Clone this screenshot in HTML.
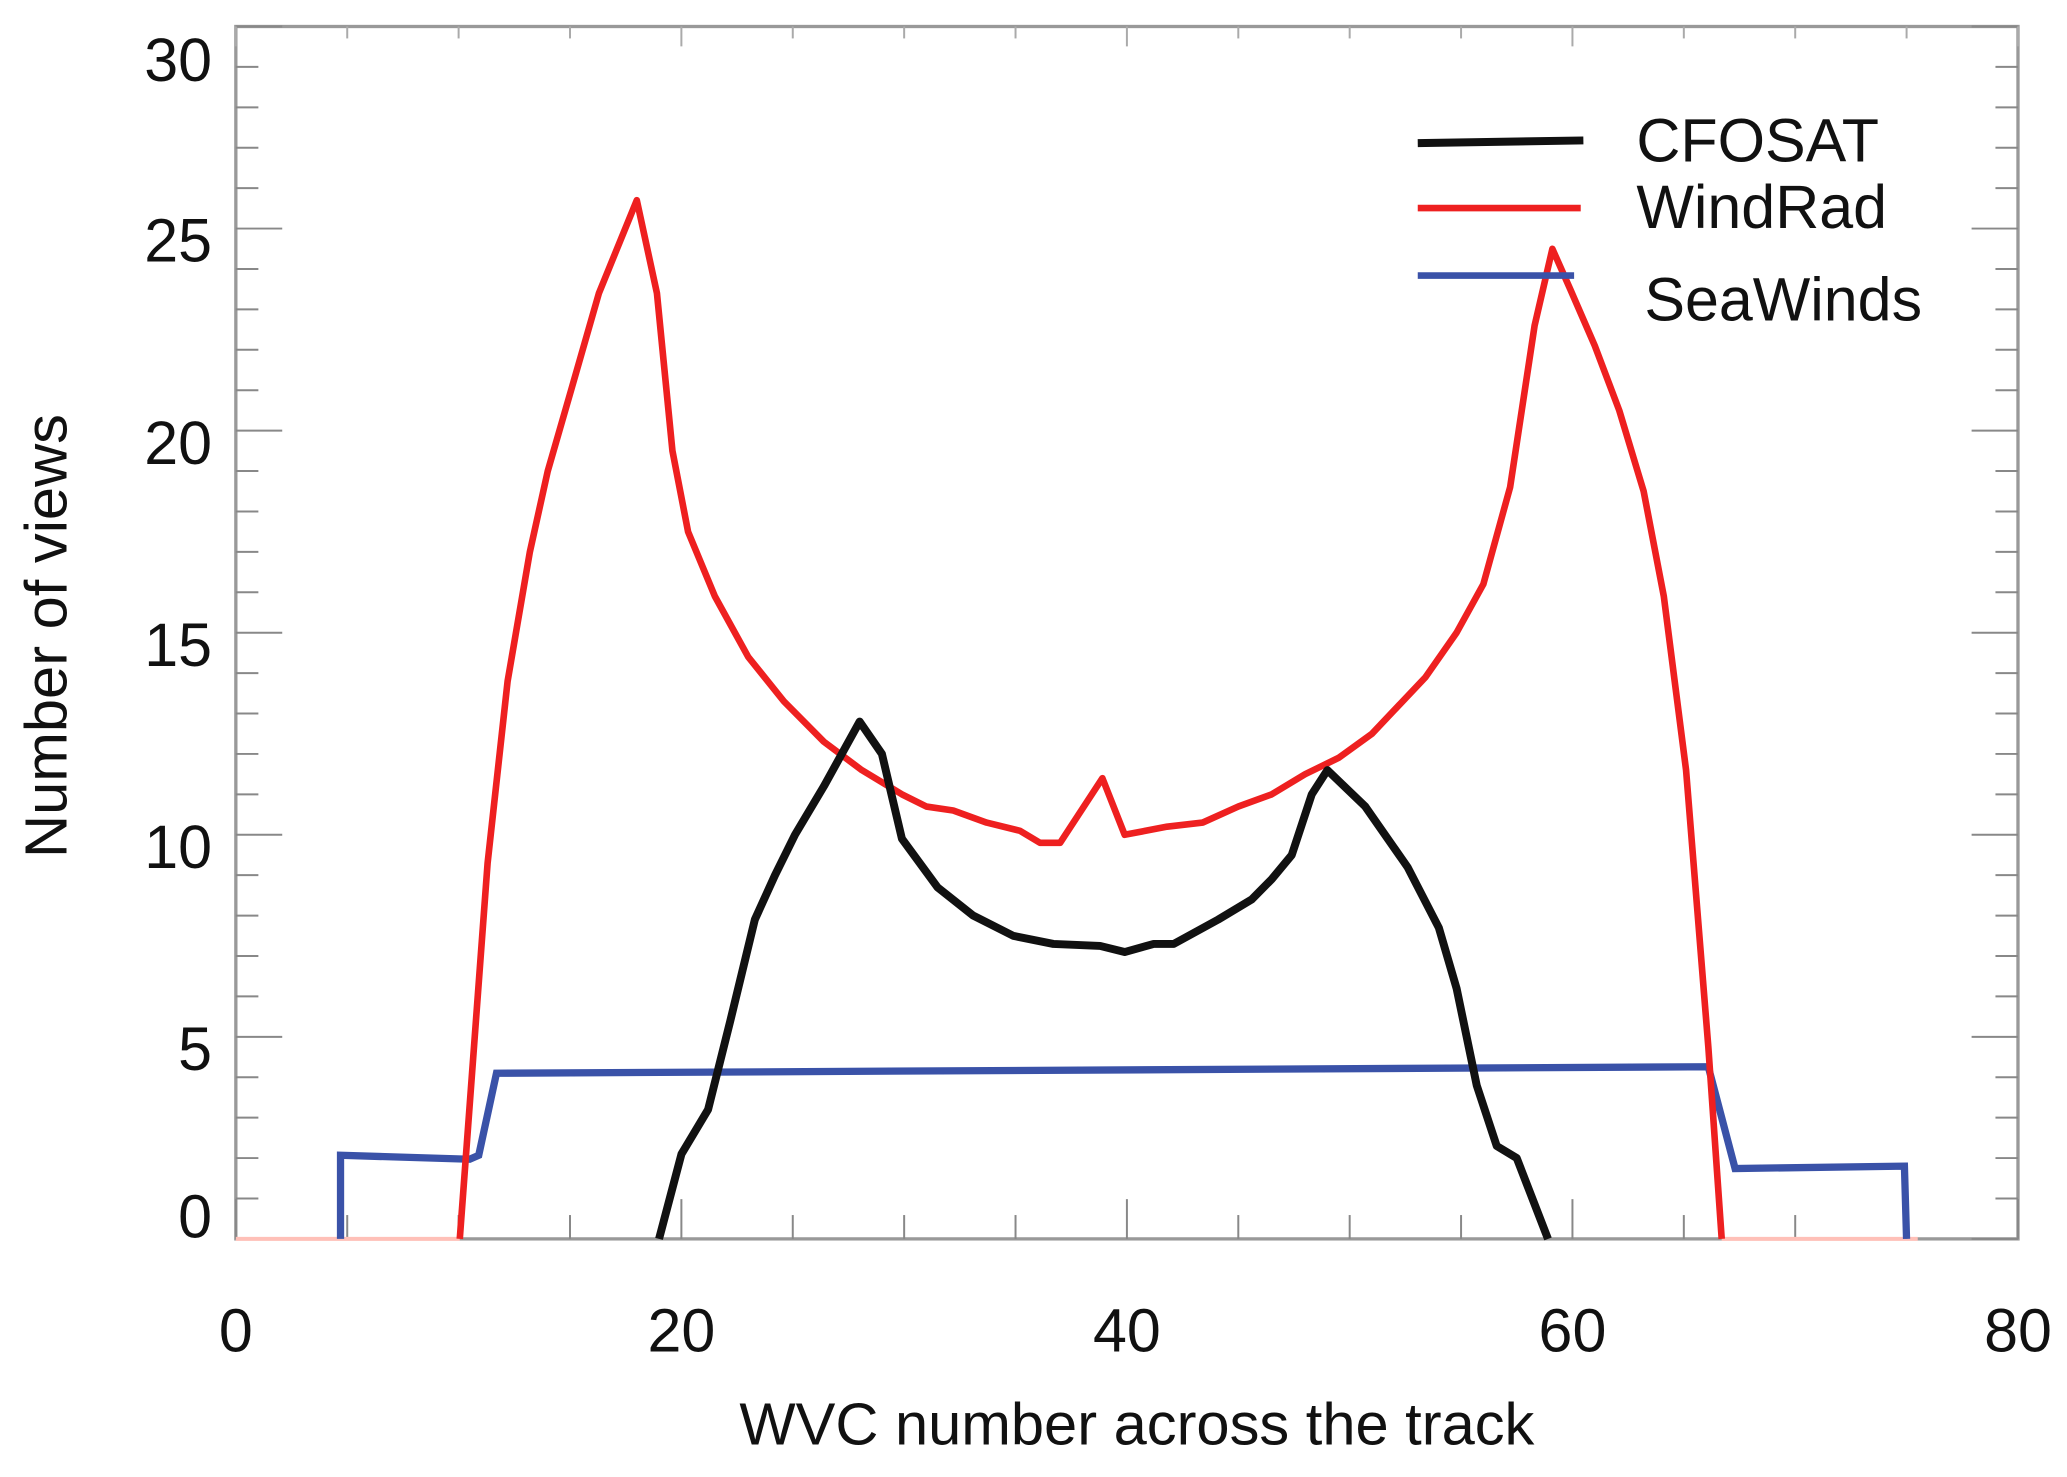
<!DOCTYPE html>
<html><head><meta charset="utf-8"><style>
html,body{margin:0;padding:0;background:#fff;}
svg{display:block;}
text{font-family:"Liberation Sans",sans-serif;fill:#111;}
</style></head><body>
<svg id="chart" width="2067" height="1477" viewBox="0 0 1560 1114.7" preserveAspectRatio="none" xmlns="http://www.w3.org/2000/svg">
<g id="axes"></g>
<g id="series"></g>
<g id="legend">
<line x1="1070" y1="108" x2="1195" y2="106" stroke="#111" stroke-width="6"/>
<text x="1235" y="122" font-size="46">CFOSAT</text>
<line x1="1070" y1="157" x2="1193" y2="157" stroke="#ee2020" stroke-width="5"/>
<text x="1235" y="172" font-size="46">WindRad</text>
<line x1="1070" y1="208" x2="1188" y2="208" stroke="#3a52a8" stroke-width="5"/>
<text x="1241" y="242" font-size="46">SeaWinds</text>
</g>
<text x="858" y="1090" font-size="45" text-anchor="middle">WVC number across the track</text>
<text transform="translate(50,480) rotate(-90)" font-size="45" text-anchor="middle">Number of views</text>
</svg>
<script>
const xTicks = [0, 20, 40, 60, 80];
const yTicks = [0, 5, 10, 15, 20, 25, 30];
const windX = [10.05,11.3,12.2,13.2,14.0,15.1,16.3,18.0,18.9,19.6,20.3,21.5,23,24.6,26.4,28.1,29.9,31,32.2,33.7,35.2,36.1,37,38.9,39.9,41.8,43.4,45,46.5,48,49.5,51,53.4,54.8,56,57.2,58.3,59.1,59.9,61,62.1,63.2,64.1,65.1,66.1,66.7];
const windY = [0,9.3,13.8,17,19,21.1,23.4,25.7,23.4,19.5,17.5,15.9,14.4,13.3,12.3,11.6,11.0,10.7,10.6,10.3,10.1,9.8,9.8,11.4,10.0,10.2,10.3,10.7,11.0,11.5,11.9,12.5,13.9,15,16.2,18.6,22.6,24.5,23.5,22.1,20.5,18.5,15.9,11.6,4.75,0];
const windZeroFrom = [0, 66.7];
const windZeroTo = [10.05, 75.5];
const cfoX = [19.0,20.0,21.2,22.2,23.3,24.2,25.1,26.4,28.0,29.0,29.9,31.5,33.1,34.9,36.7,38.8,39.9,41.2,42.1,44.1,45.6,46.5,47.4,48.3,49.0,50.7,52.6,54.0,54.8,55.7,56.6,57.5,58.9];
const cfoY = [0,2.1,3.2,5.4,7.9,9.0,10.0,11.2,12.8,12.0,9.9,8.7,8.0,7.5,7.3,7.25,7.1,7.3,7.3,7.9,8.4,8.9,9.5,11.0,11.6,10.7,9.2,7.7,6.2,3.8,2.3,2.0,0];
const seaX = [4.7,4.7,10.5,10.9,11.7,66.1,67.3,74.9,75.0];
const seaY = [0,2.07,1.97,2.07,4.1,4.26,1.74,1.8,0];

const L=178,R=1523,T=20,B=935;
const sx = v => L + v/80*(R-L);
const sy = v => B - v/30*(B-T);
const NS='http://www.w3.org/2000/svg';
function mk(tag, attrs, parent){const e=document.createElementNS(NS,tag);for(const k in attrs)e.setAttribute(k,attrs[k]);parent.appendChild(e);return e;}
const ax=document.getElementById('axes');
const frame=mk('rect',{x:L,y:T,width:R-L,height:B-T,fill:'none',stroke:'#999','stroke-width':2.5},ax);


for(let v=0;v<=30;v++){
  const len = v%5===0?35:17;
  const t1=mk('line',{x1:L,x2:L+len,y1:sy(v),y2:sy(v),stroke:'#888','stroke-width':1.5},ax);
  
  
  const t2=mk('line',{x1:R,x2:R-len,y1:sy(v),y2:sy(v),stroke:'#888','stroke-width':1.5},ax);
  
  
}
for(let v=0;v<=80;v+=5){
  const len = v%20===0?30:18;
  const t1=mk('line',{x1:sx(v),x2:sx(v),y1:B,y2:B-len,stroke:'#888','stroke-width':1.5},ax);
  
  
  const t2=mk('line',{x1:sx(v),x2:sx(v),y1:T,y2:T+len*0.5,stroke:'#aaa','stroke-width':1.5},ax);
  
  
}
yTicks.forEach(v=>{
  const yy = v===0 ? sy(v)-1 : (v===30 ? sy(v)+41 : sy(v)+25);
  const t=mk('text',{x:160,y:yy,'font-size':46,'text-anchor':'end'},ax);
  t.textContent=String(v);
  
  
});
xTicks.forEach(v=>{
  const t=mk('text',{x:sx(v),y:1020,'font-size':46,'text-anchor':'middle'},ax);
  t.textContent=String(v);
  
  
});
const sg=document.getElementById('series');
windZeroFrom.forEach((a,i)=>{
  const z=mk('line',{x1:sx(a),x2:sx(windZeroTo[i]),y1:sy(0),y2:sy(0),stroke:'#ffc0b8','stroke-width':3},sg);
  
  
});
function pts(xs,ys){return xs.map((x,i)=>sx(x).toFixed(1)+','+sy(ys[i]).toFixed(1)).join(' ');}
const pSea=mk('polyline',{points:pts(seaX,seaY),fill:'none',stroke:'#3a52a8','stroke-width':5.5,'stroke-linejoin':'miter'},sg);


const pWind=mk('polyline',{points:pts(windX,windY),fill:'none',stroke:'#ee2020','stroke-width':5,'stroke-linejoin':'round'},sg);


const pCfo=mk('polyline',{points:pts(cfoX,cfoY),fill:'none',stroke:'#111','stroke-width':6,'stroke-linejoin':'round'},sg);


</script>
</body></html>
